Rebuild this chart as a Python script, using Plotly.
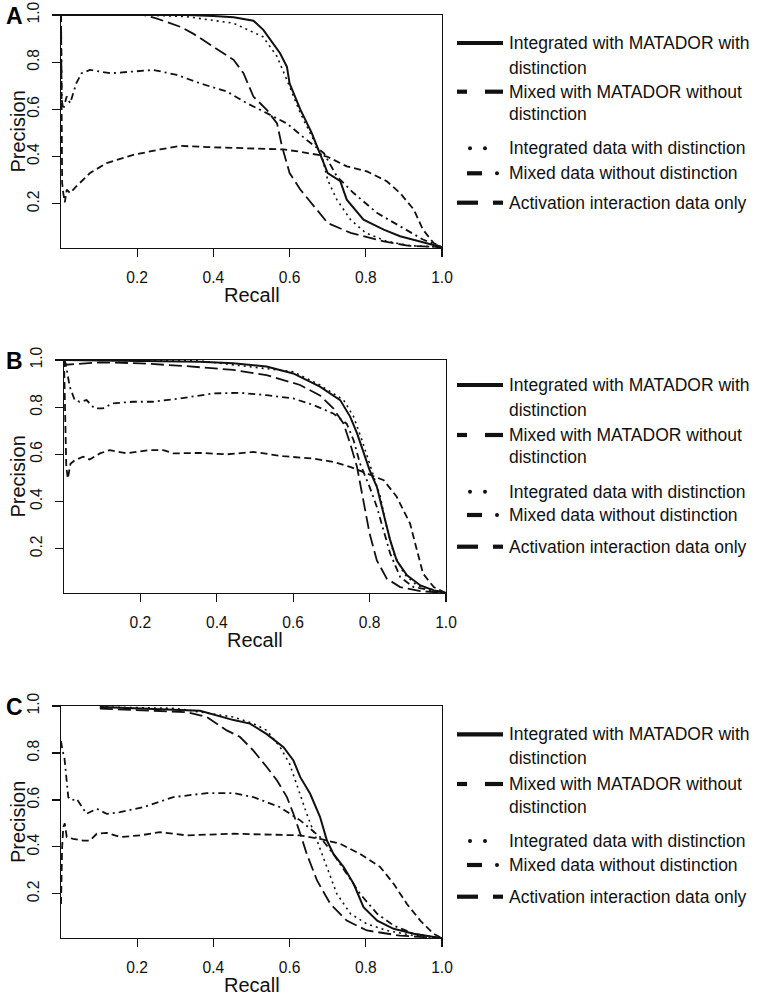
import plotly.graph_objects as go

W, H = 772, 996

# ---------------- data ----------------
series_names = [
    "Integrated with MATADOR with distinction",
    "Mixed with MATADOR without distinction",
    "Integrated data with distinction",
    "Mixed data without distinction",
    "Activation interaction data only",
]
tick_vals = [0.2, 0.4, 0.6, 0.8, 1.0]
tick_text = ["0.2", "0.4", "0.6", "0.8", "1.0"]
panel_labels = ["A", "B", "C"]

# Panel A
A_int_mat_recall = [0.0, 0.20, 0.33, 0.40, 0.453, 0.505, 0.531, 0.575, 0.593, 0.60, 0.628, 0.658, 0.68, 0.70, 0.733, 0.75, 0.794, 0.847, 0.89, 0.943, 1.0]
A_int_mat_prec = [1.0, 1.0, 1.0, 0.996, 0.99, 0.976, 0.937, 0.838, 0.78, 0.71, 0.60, 0.50, 0.415, 0.33, 0.295, 0.217, 0.132, 0.09, 0.062, 0.04, 0.015]
A_mix_mat_recall = [0.0, 0.001, 0.003, 0.006, 0.01, 0.015, 0.024, 0.04, 0.076, 0.12, 0.19, 0.26, 0.313, 0.383, 0.496, 0.584, 0.628, 0.698, 0.75, 0.803, 0.855, 0.89, 0.926, 0.95, 0.978, 1.0]
A_mix_mat_prec = [1.0, 0.43, 0.287, 0.245, 0.205, 0.26, 0.245, 0.273, 0.33, 0.372, 0.407, 0.43, 0.445, 0.44, 0.433, 0.43, 0.42, 0.40, 0.358, 0.337, 0.295, 0.245, 0.175, 0.09, 0.033, 0.015]
A_int_recall = [0.0, 0.216, 0.33, 0.453, 0.53, 0.567, 0.60, 0.628, 0.663, 0.685, 0.70, 0.724, 0.76, 0.80, 0.855, 0.917, 1.0]
A_int_prec = [1.0, 1.0, 0.993, 0.965, 0.908, 0.824, 0.697, 0.584, 0.47, 0.40, 0.30, 0.217, 0.132, 0.076, 0.04, 0.022, 0.015]
A_mix_recall = [0.0, 0.002, 0.006, 0.015, 0.024, 0.04, 0.054, 0.076, 0.13, 0.19, 0.243, 0.304, 0.365, 0.436, 0.488, 0.54, 0.593, 0.645, 0.69, 0.724, 0.768, 0.83, 0.89, 0.95, 1.0]
A_mix_prec = [1.0, 0.64, 0.60, 0.655, 0.626, 0.71, 0.753, 0.767, 0.753, 0.76, 0.767, 0.746, 0.71, 0.675, 0.626, 0.584, 0.54, 0.47, 0.414, 0.316, 0.245, 0.16, 0.104, 0.048, 0.015]
A_act_recall = [0.0, 0.216, 0.25, 0.313, 0.348, 0.40, 0.453, 0.479, 0.505, 0.54, 0.567, 0.58, 0.60, 0.628, 0.663, 0.70, 0.76, 0.847, 0.91, 1.0]
A_act_prec = [1.0, 1.0, 0.986, 0.95, 0.92, 0.866, 0.81, 0.753, 0.654, 0.598, 0.54, 0.443, 0.33, 0.26, 0.19, 0.118, 0.076, 0.04, 0.022, 0.015]

# Panel B
B_int_mat_recall = [0.0, 0.356, 0.443, 0.53, 0.60, 0.67, 0.723, 0.749, 0.767, 0.784, 0.80, 0.819, 0.837, 0.854, 0.871, 0.898, 0.933, 0.968, 1.0]
B_int_mat_prec = [1.0, 0.993, 0.986, 0.972, 0.943, 0.887, 0.83, 0.76, 0.69, 0.604, 0.533, 0.462, 0.349, 0.235, 0.15, 0.087, 0.044, 0.023, 0.012]
B_mix_mat_recall = [0.0, 0.006, 0.01, 0.017, 0.028, 0.05, 0.067, 0.094, 0.12, 0.163, 0.225, 0.26, 0.286, 0.356, 0.426, 0.496, 0.574, 0.653, 0.705, 0.749, 0.793, 0.837, 0.871, 0.906, 0.924, 0.94, 0.968, 1.0]
B_mix_mat_prec = [1.0, 0.547, 0.497, 0.56, 0.575, 0.59, 0.578, 0.604, 0.618, 0.604, 0.618, 0.618, 0.604, 0.606, 0.60, 0.61, 0.592, 0.582, 0.568, 0.547, 0.519, 0.49, 0.42, 0.306, 0.193, 0.094, 0.037, 0.012]
B_int_recall = [0.0, 0.356, 0.60, 0.67, 0.732, 0.758, 0.78, 0.80, 0.828, 0.845, 0.863, 0.89, 0.924, 1.0]
B_int_prec = [1.0, 0.996, 0.95, 0.894, 0.83, 0.76, 0.66, 0.56, 0.42, 0.29, 0.18, 0.094, 0.044, 0.012]
B_mix_recall = [0.0, 0.006, 0.015, 0.028, 0.041, 0.059, 0.08, 0.102, 0.128, 0.18, 0.233, 0.303, 0.39, 0.46, 0.53, 0.60, 0.653, 0.705, 0.74, 0.758, 0.775, 0.80, 0.819, 0.837, 0.854, 0.88, 0.915, 1.0]
B_mix_prec = [1.0, 0.97, 0.887, 0.83, 0.823, 0.83, 0.795, 0.795, 0.816, 0.823, 0.823, 0.837, 0.858, 0.861, 0.851, 0.837, 0.809, 0.773, 0.73, 0.66, 0.561, 0.462, 0.377, 0.278, 0.179, 0.08, 0.037, 0.012]
B_act_recall = [0.0, 0.006, 0.094, 0.20, 0.312, 0.443, 0.53, 0.618, 0.67, 0.705, 0.732, 0.749, 0.767, 0.784, 0.80, 0.819, 0.845, 0.88, 0.933, 1.0]
B_act_prec = [1.0, 0.98, 0.99, 0.986, 0.975, 0.958, 0.936, 0.894, 0.85, 0.795, 0.73, 0.646, 0.547, 0.405, 0.264, 0.15, 0.073, 0.037, 0.02, 0.012]

# Panel C
C_int_mat_recall = [0.102, 0.234, 0.365, 0.453, 0.496, 0.54, 0.584, 0.61, 0.628, 0.654, 0.68, 0.698, 0.715, 0.742, 0.768, 0.794, 0.83, 0.873, 0.926, 1.0]
C_int_mat_prec = [0.996, 0.989, 0.98, 0.94, 0.925, 0.88, 0.825, 0.768, 0.697, 0.626, 0.527, 0.427, 0.37, 0.314, 0.243, 0.143, 0.086, 0.051, 0.03, 0.011]
C_mix_mat_recall = [0.0, 0.003, 0.006, 0.01, 0.015, 0.032, 0.059, 0.076, 0.094, 0.12, 0.155, 0.208, 0.26, 0.33, 0.453, 0.575, 0.628, 0.68, 0.733, 0.785, 0.838, 0.873, 0.908, 0.943, 0.978, 1.0]
C_mix_mat_prec = [0.157, 0.40, 0.484, 0.50, 0.442, 0.434, 0.427, 0.427, 0.456, 0.46, 0.442, 0.449, 0.463, 0.449, 0.456, 0.453, 0.449, 0.434, 0.413, 0.37, 0.314, 0.243, 0.157, 0.086, 0.03, 0.011]
C_int_recall = [0.102, 0.30, 0.453, 0.505, 0.54, 0.575, 0.60, 0.62, 0.645, 0.672, 0.698, 0.724, 0.76, 0.803, 0.855, 0.926, 1.0]
C_int_prec = [0.996, 0.99, 0.953, 0.925, 0.896, 0.825, 0.754, 0.655, 0.541, 0.427, 0.314, 0.20, 0.115, 0.072, 0.044, 0.022, 0.011]
C_mix_recall = [0.0, 0.004, 0.009, 0.013, 0.019, 0.028, 0.041, 0.067, 0.094, 0.12, 0.155, 0.216, 0.295, 0.383, 0.453, 0.505, 0.575, 0.628, 0.68, 0.715, 0.75, 0.785, 0.83, 0.873, 0.926, 1.0]
C_mix_prec = [0.85, 0.81, 0.78, 0.71, 0.612, 0.598, 0.605, 0.541, 0.562, 0.541, 0.548, 0.569, 0.612, 0.629, 0.629, 0.612, 0.569, 0.513, 0.442, 0.37, 0.285, 0.20, 0.115, 0.065, 0.03, 0.011]
C_act_recall = [0.102, 0.19, 0.33, 0.383, 0.435, 0.47, 0.505, 0.54, 0.567, 0.593, 0.61, 0.628, 0.645, 0.672, 0.707, 0.75, 0.803, 0.89, 1.0]
C_act_prec = [0.989, 0.982, 0.974, 0.953, 0.896, 0.868, 0.81, 0.74, 0.683, 0.612, 0.541, 0.456, 0.37, 0.257, 0.157, 0.086, 0.044, 0.022, 0.011]

panels_data = [
    [(A_int_mat_recall, A_int_mat_prec), (A_mix_mat_recall, A_mix_mat_prec), (A_int_recall, A_int_prec), (A_mix_recall, A_mix_prec), (A_act_recall, A_act_prec)],
    [(B_int_mat_recall, B_int_mat_prec), (B_mix_mat_recall, B_mix_mat_prec), (B_int_recall, B_int_prec), (B_mix_recall, B_mix_prec), (B_act_recall, B_act_prec)],
    [(C_int_mat_recall, C_int_mat_prec), (C_mix_mat_recall, C_mix_mat_prec), (C_int_recall, C_int_prec), (C_mix_recall, C_mix_prec), (C_act_recall, C_act_prec)],
]

# ---------------- styling ----------------
FONT = "Liberation Sans, Arial, sans-serif"
INK = "#111111"
line_styles = [
    dict(dash="solid", width=2.0),
    dict(dash="7px,4px", width=1.8),
    dict(dash="2px,4px", width=1.6),
    dict(dash="7px,4px,2px,4px", width=1.8),
    dict(dash="13px,5px", width=1.8),
]

# plot-area pixel boxes (left, top, right, bottom)
boxes = [(61, 15, 442, 248), (64, 360, 446, 593), (61, 706, 442, 938)]
# legend text-line centres (pixels) per panel
legend_rows = [
    [43, 67.7, 91.7, 114.3, 148.3, 173.3, 202.7],
    [385, 410, 435, 456.7, 491.7, 515, 546.7],
    [734.3, 758.3, 784, 806.7, 841, 865, 896.7],
]
legend_texts = [
    "Integrated with MATADOR with", "distinction",
    "Mixed with MATADOR without", "distinction",
    "Integrated data with distinction",
    "Mixed data without distinction",
    "Activation interaction data only",
]


def px(x):
    return x / W


def py(y):
    return 1 - y / H


fig = go.Figure()
annotations = []
shapes = []

for i, (box, data) in enumerate(zip(boxes, panels_data)):
    l, t, r, b = box
    ax = "" if i == 0 else str(i + 1)
    for j, (xs, ys) in enumerate(data):
        st = line_styles[j]
        fig.add_trace(go.Scatter(
            x=xs, y=ys, mode="lines", name=series_names[j], showlegend=False,
            line=dict(color=INK, width=st["width"], dash=st["dash"]),
            xaxis="x" + ax, yaxis="y" + ax, hoverinfo="skip",
        ))
    common = dict(showgrid=False, zeroline=False, showline=True, linecolor=INK,
                  linewidth=1.3, mirror=True, ticks="outside", ticklen=8,
                  tickwidth=1.2, tickcolor=INK, tickvals=tick_vals, ticktext=tick_text,
                  automargin=False,
                  tickfont=dict(family=FONT, size=15.6, color=INK))
    fig.update_layout(**{
        "xaxis" + ax: dict(domain=[px(l), px(r)], range=[0, 1], anchor="y" + ax,
                           ticklabelstandoff=7, **common),
        "yaxis" + ax: dict(domain=[py(b), py(t)], range=[0.012, 1.0], anchor="x" + ax,
                           tickangle=-90, ticklabelstandoff=6, **common),
    })
    # axis titles
    annotations.append(dict(text="Recall", x=px((l + r) / 2), y=py(b + 47), xref="paper", yref="paper",
                            showarrow=False, xanchor="center", yanchor="middle",
                            font=dict(family=FONT, size=20, color=INK)))
    annotations.append(dict(text="Precision", x=px(18), y=py((t + b) / 2), xref="paper", yref="paper",
                            showarrow=False, textangle=-90, xanchor="center", yanchor="middle",
                            font=dict(family=FONT, size=20, color=INK)))
    # panel label
    annotations.append(dict(text="<b>%s</b>" % panel_labels[i], x=px(4), y=py(t + 1), xref="paper", yref="paper",
                            showarrow=False, xanchor="left", yanchor="middle",
                            font=dict(family=FONT, size=23, color="#000")))
    # legend text
    rows = legend_rows[i]
    for k, txt in enumerate(legend_texts):
        annotations.append(dict(text=txt, x=px(507), y=py(rows[k]), xref="paper", yref="paper",
                                showarrow=False, xanchor="left", yanchor="middle",
                                font=dict(family=FONT, size=17.5, color=INK)))
    # legend samples
    ys_leg = [rows[0], rows[2], rows[4], rows[5], rows[6]]
    seg_sets = [
        [(457, 503)],
        [(457, 467), (485, 503)],
        [],
        [(467, 482)],
        [(457, 478), (493, 503)],
    ]
    dot_sets = [[], [], [470, 485], [497], []]
    for k in range(5):
        yy = py(ys_leg[k])
        for (x0, x1) in seg_sets[k]:
            shapes.append(dict(type="line", xref="paper", yref="paper", x0=px(x0), x1=px(x1),
                               y0=yy, y1=yy, line=dict(color=INK, width=4.2)))
        for xd in dot_sets[k]:
            shapes.append(dict(type="circle", xref="paper", yref="paper",
                               x0=px(xd - 2), x1=px(xd + 2), y0=py(ys_leg[k] + 2), y1=py(ys_leg[k] - 2),
                               fillcolor=INK, line=dict(width=0)))

fig.update_layout(
    width=W, height=H, autosize=False,
    margin=dict(l=0, r=0, t=0, b=0, pad=0, autoexpand=False),
    paper_bgcolor="white", plot_bgcolor="white",
    annotations=annotations, shapes=shapes,
    showlegend=False,
)

fig.write_html("out.html", config={"displayModeBar": False, "staticPlot": True},
               post_script="document.body.style.margin='0';document.body.style.overflow='hidden';")
